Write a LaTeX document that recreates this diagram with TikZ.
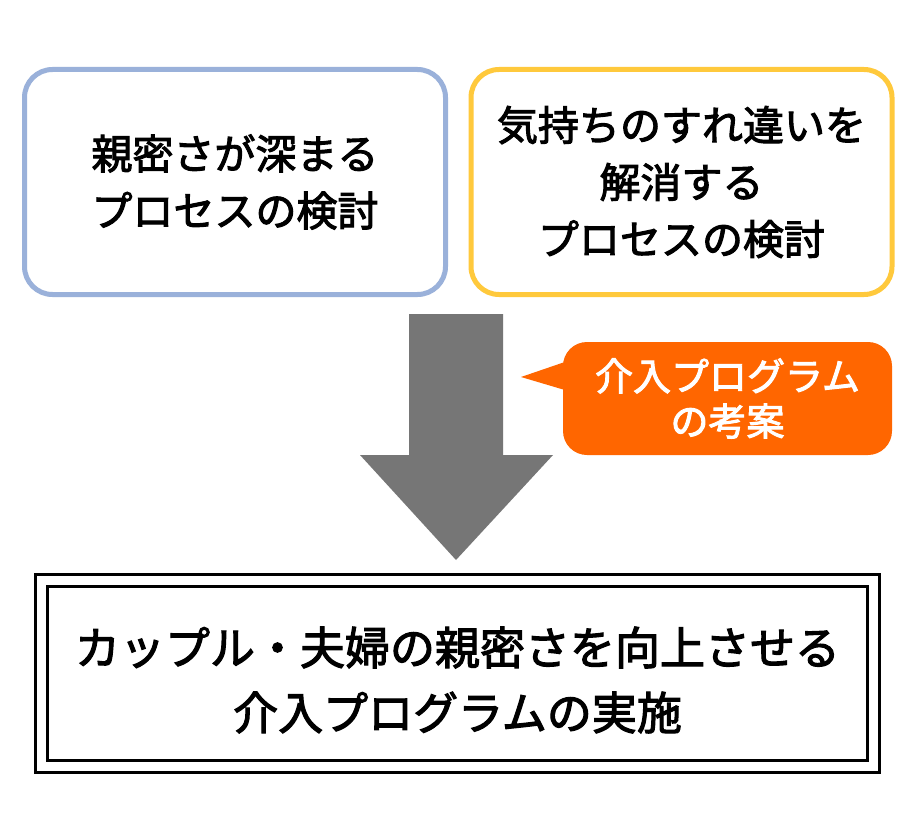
\documentclass[tikz,border=0pt]{standalone}
\usepackage{fontspec}
\newfontfamily\jp[FakeBold=2.5]{Noto Sans CJK JP}
\definecolor{boxblue}{HTML}{9AB1DA}
\definecolor{boxyellow}{HTML}{FFC93C}
\definecolor{calloutorange}{HTML}{FF6600}
\definecolor{arrowgray}{HTML}{767676}
\begin{document}
\begin{tikzpicture}[x=1pt,y=-1pt,
  topbox/.style={draw, line width=5pt, rounded corners=28pt, fill=white,
    minimum width=421pt, minimum height=225pt, align=center,
    font=\jp\fontsize{41}{57}\selectfont, inner sep=0pt},
  calloutbox/.style={fill=calloutorange, rounded corners=24pt,
    minimum width=329pt, minimum height=113pt, align=center, text=white,
    font=\jp\fontsize{38}{45}\selectfont, inner sep=0pt},
  framebox/.style={draw=black, line width=3pt, double=white, double distance=9pt,
    minimum width=832pt, minimum height=186pt, inner sep=0pt},
  bigtext/.style={align=center, font=\jp\fontsize{45}{65}\selectfont, inner sep=0pt}
]
\useasboundingbox[fill=white] (0,0) rectangle (910,840);
% top boxes
\node[topbox, draw=boxblue] (left) at (235,182) {親密さが深まる\\プロセスの検討};
\node[topbox, draw=boxyellow] (right) at (681.5,182) {気持ちのすれ違いを\\解消する\\プロセスの検討};
% big arrow
\fill[arrowgray] (409,314) -- (503,314) -- (503,455) -- (553,455) -- (456,560)
  -- (360,455) -- (409,455) -- cycle;
% callout
\node[calloutbox] (callout) at (727.5,398.5) {介入プログラム\\の考案};
\coordinate (tip) at (521,377);
\fill[calloutorange] (tip) -- ([yshift=36.5pt,xshift=2pt]callout.west) -- ([yshift=8.5pt,xshift=2pt]callout.west) -- cycle;
% bottom framed box
\node[framebox] (frame) at (457.5,673) {};
\node[bigtext] (result) at (457.5,680) {カップル・夫婦の親密さを向上させる\\介入プログラムの実施};
\end{tikzpicture}
\end{document}
